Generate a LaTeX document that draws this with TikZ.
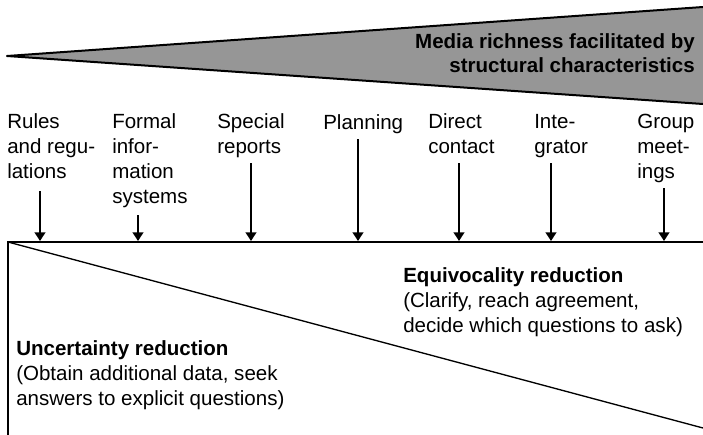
\documentclass[tikz,border=0pt]{standalone}
\usepackage{fontspec}
\setmainfont{Liberation Sans}
\usetikzlibrary{arrows.meta}
\definecolor{wedgegray}{RGB}{150,150,150}

\begin{document}
\begin{tikzpicture}[x=0.75pt,y=-0.75pt,
    lbl/.style={anchor=base west,inner sep=0pt,align=left,font=\fontsize{15.4}{18.6}\selectfont},
    bold/.style={lbl,font=\fontsize{15.4}{18.6}\selectfont\bfseries},
    arr/.style={-{Triangle[width=8pt,length=6.5pt]},line width=2pt}]

    \useasboundingbox (0,0) rectangle (703,435);

    % media richness wedge
    \coordinate (tip) at (7,56);
    \coordinate (tr) at (703,7);
    \coordinate (br) at (703,104);
    \fill [wedgegray] (tip) -- (tr) -- (br) -- cycle;
    \draw [line width=1.5pt, line join=round] (tr) -- (tip) -- (br);
    % multi-line nodes: base is the last line
    \node [bold, anchor=base east, align=right] (media) at (695,73)
        {Media richness facilitated by\\structural characteristics};

    % structural characteristics
    \node [lbl] (rules) at (7,178) {Rules\\and regu-\\lations};
    \node [lbl] (formal) at (112,203) {Formal\\infor-\\mation\\systems};
    \node [lbl] (special) at (217,153) {Special\\reports};
    \node [lbl] (planning) at (323,129) {Planning};
    \node [lbl] (direct) at (428,153) {Direct\\contact};
    \node [lbl] (integ) at (534,153) {Inte-\\grator};
    \node [lbl] (group) at (637,178) {Group\\meet-\\ings};

    \foreach \x/\y [count=\i] in {40/191, 138/215, 251/163, 358/139, 459/163, 551/163, 664/188} {
        \coordinate (s\i) at (\x,\y);
        \coordinate (e\i) at (\x,241);
        \draw [arr] (s\i) -- (e\i);
    }

    % reduction box
    \coordinate (nw) at (8,242);
    \coordinate (ne) at (703,242);
    \coordinate (sw) at (8,435);
    \coordinate (se) at (703,428);
    \draw [line width=1.1pt] (ne) -- (nw) -- (sw);
    \draw [line width=1pt] (nw) -- (se);

    \node [bold] (equiv) at (403,282) {Equivocality reduction};
    \node [lbl] (equivtxt) at (403,332) {(Clarify, reach agreement,\\decide which questions to ask)};
    \node [bold] (uncert) at (16,355) {Uncertainty reduction};
    \node [lbl] (uncerttxt) at (16,405) {(Obtain additional data, seek\\answers to explicit questions)};

\end{tikzpicture}
\end{document}
